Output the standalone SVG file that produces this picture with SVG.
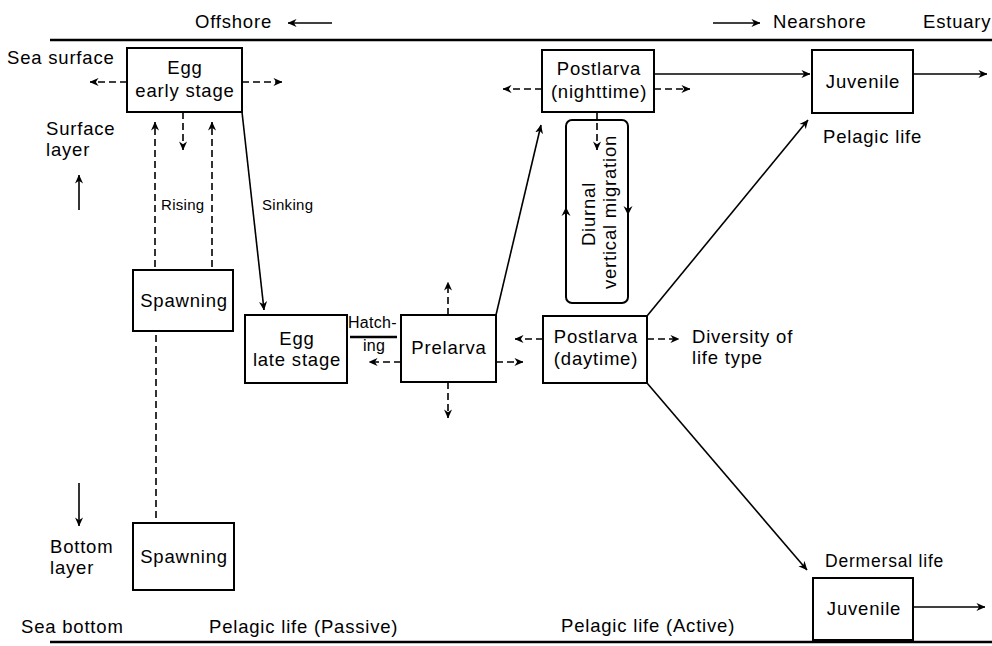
<svg xmlns="http://www.w3.org/2000/svg" width="992" height="646" viewBox="0 0 992 646">
<style>
text{font-family:"Liberation Sans",Arial,Helvetica,sans-serif;font-size:18.5px;letter-spacing:0.8px;fill:#000}
.s{font-size:15px;letter-spacing:0.3px}
.h{font-size:16px;letter-spacing:0.3px}
.d{font-size:17.5px;letter-spacing:0.8px}
.m{text-anchor:middle}
rect{fill:#fff;stroke:#000;stroke-width:2}
.c path{fill:none;stroke:#000;stroke-width:1.6}
.c .ds{stroke-dasharray:7,4}
.c .a{marker-end:url(#ah)}
.c .rule{stroke-width:2.5}
.hd{fill:#000;stroke:none}
</style>
<defs>
<marker id="ah" viewBox="0 0 10 10" refX="9.5" refY="5" markerWidth="9" markerHeight="9" markerUnits="userSpaceOnUse" orient="auto">
<path d="M0,0.5 L10,5 L0,9.5 L3,5 Z" fill="#000"/>
</marker>
</defs>
<rect x="0" y="0" width="992" height="646" style="stroke:none;fill:#fff"/>

<g id="labels">
<text x="195" y="28">Offshore</text>
<text x="773" y="28">Nearshore</text>
<text x="923" y="28">Estuary</text>
<text x="7" y="64">Sea surface</text>
<text x="46" y="135">Surface</text>
<text x="46" y="156">layer</text>
<text x="50" y="553">Bottom</text>
<text x="50" y="574">layer</text>
<text x="21" y="633">Sea bottom</text>
<text x="209" y="633">Pelagic life (Passive)</text>
<text x="561" y="632">Pelagic life (Active)</text>
<text x="823" y="143">Pelagic life</text>
<text class="d" x="825" y="567">Dermersal life</text>
<text x="692" y="343">Diversity of</text>
<text x="692" y="364">life type</text>
<text class="s" x="161" y="210">Rising</text>
<text class="s" x="262" y="210">Sinking</text>
<text class="h" x="348" y="328">Hatch-</text>
<text class="h" x="363" y="351">ing</text>
</g>

<g class="c" id="connectors">
<path class="rule" d="M50,40 H992"/>
<path class="rule" d="M50,642 H992"/>
<path class="a" d="M332,23 H288"/>
<path class="a" d="M713,23 H760"/>
<path class="ds a" d="M127,82 H90"/>
<path class="ds a" d="M242,82 H282"/>
<path class="ds a" d="M183,112 V150"/>
<path class="ds a" d="M155,267 V122"/>
<path class="ds a" d="M212,267 V122"/>
<path class="a" d="M242,112 L264,310"/>
<path class="ds" d="M156,335 V523"/>
<path class="a" d="M79,210 V175"/>
<path class="a" d="M79,483 V526"/>
<path class="rule" d="M350,337 H397"/>
<path class="ds a" d="M401,362 H369"/>
<path class="ds a" d="M448,315 V282"/>
<path class="ds a" d="M448,382 V418"/>
<path class="ds a" d="M496,362 H523"/>
<path class="a" d="M496,315 L541,125"/>
<path class="ds a" d="M543,339 H515"/>
<path class="ds a" d="M647,339 H679"/>
<path class="a" d="M647,316 L808,120"/>
<path class="a" d="M647,383 L807,570"/>
<path class="ds a" d="M542,89 H503"/>
<path class="ds a" d="M654,89 H690"/>
<path class="a" d="M654,74 H810"/>
<path class="a" d="M913,74 H987"/>
<path class="a" d="M913,607 H985"/>
<path class="ds a" d="M597,112 V150"/>
</g>

<g id="egg_early">
<rect x="127" y="48" width="115" height="64"/>
<text class="m" x="185" y="74">Egg</text>
<text class="m" x="185" y="97">early stage</text>
</g>
<g id="spawning_surface">
<rect x="133" y="270" width="100" height="61"/>
<text class="m" x="184" y="307">Spawning</text>
</g>
<g id="spawning_bottom">
<rect x="133" y="523" width="101" height="67"/>
<text class="m" x="184" y="563">Spawning</text>
</g>
<g id="egg_late">
<rect x="245" y="315" width="102" height="68"/>
<text class="m" x="297" y="345">Egg</text>
<text class="m" x="297" y="366">late stage</text>
</g>
<g id="prelarva">
<rect x="401" y="315" width="95" height="67"/>
<text class="m" x="449" y="354">Prelarva</text>
</g>
<g id="postlarva_day">
<rect x="543" y="316" width="104" height="67"/>
<text class="m" x="596" y="343">Postlarva</text>
<text class="m" x="596" y="365">(daytime)</text>
</g>
<g id="postlarva_night">
<rect x="542" y="50" width="112" height="62"/>
<text class="m" x="599" y="75">Postlarva</text>
<text class="m" x="599" y="98">(nighttime)</text>
</g>
<g id="diurnal">
<rect x="566" y="120" width="62" height="183" rx="6" style="fill:none"/>
<path class="hd" d="M566,207 L570.5,216 L566,213 L561.5,216 Z"/>
<path class="hd" d="M628,215 L623.5,206 L628,209 L632.5,206 Z"/>
<text class="m" transform="translate(595,214) rotate(-90)">Diurnal</text>
<text class="m" transform="translate(616,212) rotate(-90)">vertical migration</text>
</g>
<g id="juvenile_pelagic">
<rect x="812" y="50" width="101" height="63"/>
<text class="m" x="863" y="88">Juvenile</text>
</g>
<g id="juvenile_demersal">
<rect x="813" y="578" width="100" height="62"/>
<text class="m" x="864" y="615">Juvenile</text>
</g>
</svg>
